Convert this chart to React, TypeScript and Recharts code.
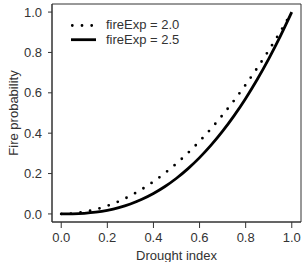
import React from "react";
import { LineChart, Line, XAxis, YAxis, ReferenceArea, Legend, Label } from "recharts";

// Drought index sampled across [0, 1]
const droughtIndex = [
  0, 0.05, 0.1, 0.15, 0.2, 0.25, 0.3, 0.35, 0.4, 0.45, 0.5,
  0.55, 0.6, 0.65, 0.7, 0.75, 0.8, 0.85, 0.9, 0.95, 1,
];
// Fire probability for fireExp = 2.0
const probExp20 = [
  0, 0.0025, 0.01, 0.0225, 0.04, 0.0625, 0.09, 0.1225, 0.16, 0.2025, 0.25,
  0.3025, 0.36, 0.4225, 0.49, 0.5625, 0.64, 0.7225, 0.81, 0.9025, 1,
];
// Fire probability for fireExp = 2.5
const probExp25 = [
  0, 0.0006, 0.0032, 0.0087, 0.0179, 0.0313, 0.0493, 0.0725, 0.1012, 0.1358, 0.1768,
  0.2243, 0.2789, 0.3406, 0.41, 0.4871, 0.5724, 0.6661, 0.7684, 0.8796, 1,
];
const axisTicks = [0, 0.2, 0.4, 0.6, 0.8, 1];
const seriesNames = ["fireExp = 2.0", "fireExp = 2.5"];

const rows = droughtIndex.map((d, i) => ({ d, a: probExp20[i], b: probExp25[i] }));

const FONT = "'Liberation Sans', Arial, Helvetica, sans-serif";
const INK = "#333";
const tickStyle = { fontSize: 13, fill: INK, fontFamily: FONT };

const DOTS = "0 9.7";

const LegendBox = () => (
  <svg width={140} height={36} style={{ display: "block" }}>
    <line x1={12.3} x2={32} y1={11.5} y2={11.5} stroke="#000" strokeWidth={2.8}
      strokeLinecap="round" strokeDasharray={DOTS} />
    <text x={46} y={15} fontSize={13} fill={INK} fontFamily={FONT}>{seriesNames[0]}</text>
    <line x1={11} x2={36} y1={25.7} y2={25.7} stroke="#000" strokeWidth={2.8} />
    <text x={46} y={29.5} fontSize={13} fill={INK} fontFamily={FONT}>{seriesNames[1]}</text>
  </svg>
);

const YTitle = (props: any) => {
  const vb = props.viewBox || { x: 0, y: 4, width: 52, height: 218 };
  const cx = vb.x + 13;
  const cy = vb.y + vb.height / 2;
  return (
    <text x={cx} y={cy} transform={`rotate(-90, ${cx}, ${cy})`} textAnchor="middle"
      dominantBaseline="central" fontSize={13} fill={INK} fontFamily={FONT}>
      Fire probability
    </text>
  );
};

const XTitle = (props: any) => {
  const vb = props.viewBox || { x: 52, y: 222, width: 249, height: 40 };
  return (
    <text x={vb.x + vb.width / 2} y={vb.y + 37.5} textAnchor="middle"
      fontSize={13} fill={INK} fontFamily={FONT}>
      Drought index
    </text>
  );
};

export default function App() {
  return (
    <div style={{ position: "absolute", left: 0, top: 0, background: "#fff" }}>
      <LineChart width={305} height={262} data={rows}
        margin={{ top: 4, right: 4, bottom: 0, left: 0 }}>
        <XAxis dataKey="d" type="number" domain={[-0.04, 1.04]} ticks={axisTicks}
          allowDataOverflow tickFormatter={(v: number) => v.toFixed(1)}
          height={40} tickSize={6} tickMargin={5} tick={tickStyle}
          axisLine={{ stroke: INK }} tickLine={{ stroke: INK }} interval={0}>
          <Label content={<XTitle />} />
        </XAxis>
        <YAxis type="number" domain={[-0.04, 1.04]} ticks={axisTicks} allowDataOverflow
          tickFormatter={(v: number) => v.toFixed(1)} width={52} tickSize={4}
          tickMargin={6} tick={tickStyle} axisLine={{ stroke: INK }}
          tickLine={{ stroke: INK }} interval={0}>
          <Label content={<YTitle />} />
        </YAxis>
        <ReferenceArea x1={-0.04} x2={1.04} y1={-0.04} y2={1.04} fill="none"
          fillOpacity={0} stroke={INK} strokeWidth={1} ifOverflow="visible" />
        <Legend layout="vertical" align="center" verticalAlign="middle"
          content={() => <LegendBox />}
          wrapperStyle={{ position: "absolute", left: 60, top: 14, width: 140, height: 36 }} />
        <Line dataKey="a" name={seriesNames[0]} type="monotone" stroke="#000"
          strokeWidth={2.8} strokeLinecap="round" strokeDasharray={DOTS}
          dot={false} isAnimationActive={false} />
        <Line dataKey="b" name={seriesNames[1]} type="monotone" stroke="#000"
          strokeWidth={2.8} dot={false} isAnimationActive={false} />
      </LineChart>
    </div>
  );
}
